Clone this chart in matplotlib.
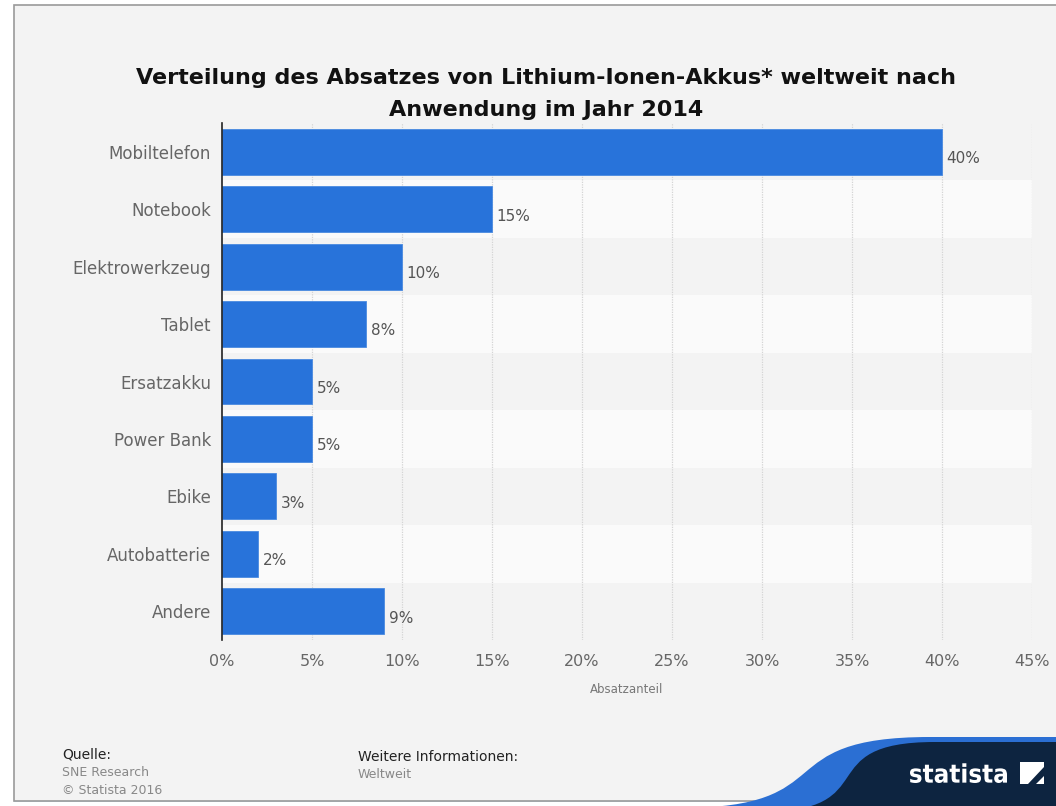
import matplotlib
matplotlib.use("Agg")
import matplotlib.pyplot as plt
import numpy as np
from matplotlib.patches import Rectangle, Polygon, PathPatch
from matplotlib.path import Path
from matplotlib.textpath import TextPath
from matplotlib.font_manager import FontProperties
from matplotlib.transforms import Affine2D

plt.rcParams['font.family'] = ['DejaVu Sans']

categories = ["Mobiltelefon", "Notebook", "Elektrowerkzeug", "Tablet", "Ersatzakku",
              "Power Bank", "Ebike", "Autobatterie", "Andere"]
shares = [40, 15, 10, 8, 5, 5, 3, 2, 9]
xticks = [0, 5, 10, 15, 20, 25, 30, 35, 40, 45]

BG = "#f3f3f3"
BAND = "#fafafa"
BAR = "#2873da"
GREY = "#666666"

W, H = 1056, 806
fig = plt.figure(figsize=(W / 100, H / 100), dpi=100)
fig.patch.set_facecolor("white")

# page frame and decoration layer in pixel coordinates
deco = fig.add_axes([0, 0, 1, 1], zorder=0)
deco.set_xlim(0, W)
deco.set_ylim(H, 0)
deco.axis("off")
deco.add_patch(Rectangle((14, 5), W + 20, 796, facecolor=BG, edgecolor="#9a9a9a", lw=1.2))

# main chart
ax = fig.add_axes([222 / W, 1 - 640 / H, (1032 - 222) / W, (640 - 123) / H], zorder=2)
ax.set_facecolor("none")
n = len(categories)
y = np.arange(n)
for i in y:
    if i % 2 == 1:
        ax.axhspan(i - 0.5, i + 0.5, color=BAND, zorder=0, lw=0)
ax.barh(y, shares, height=0.8, color=BAR, edgecolor="#4a8ae0", linewidth=0.6, zorder=3)
for yi, v in zip(y, shares):
    ax.text(v + 0.25, yi + 0.12, f"{v}%", va="center", ha="left", fontsize=11, color="#555555", zorder=4)

ax.set_ylim(n - 0.5, -0.5)
ax.set_xlim(0, 45)
ax.set_xticks(xticks)
ax.set_xticklabels([f"{t}%" for t in xticks], fontsize=11.5, color=GREY)
ax.set_yticks(y)
ax.set_yticklabels(categories, fontsize=12, color=GREY)
ax.tick_params(axis="both", length=0)
ax.tick_params(axis="x", pad=10)
ax.tick_params(axis="y", pad=8)
for t in xticks[1:]:
    ax.axvline(t, color="#d4d4d4", lw=0.9, ls=(0, (1, 1)), zorder=1)
for s in ["top", "right", "bottom"]:
    ax.spines[s].set_visible(False)
ax.spines["left"].set_color("#222222")
ax.spines["left"].set_linewidth(1.2)
ax.spines["left"].set_zorder(5)
ax.set_xlabel("Absatzanteil", fontsize=8.5, color="#777777", labelpad=10)

# title
fig.text(546 / W, 1 - 78 / H, "Verteilung des Absatzes von Lithium-Ionen-Akkus* weltweit nach",
         ha="center", va="center", fontsize=16, fontweight="bold", color="#111111")
fig.text(546 / W, 1 - 110 / H, "Anwendung im Jahr 2014",
         ha="center", va="center", fontsize=16, fontweight="bold", color="#111111")

# footer
fig.text(62 / W, 1 - 755 / H, "Quelle:", fontsize=10, color="#222222", va="center")
fig.text(62 / W, 1 - 773 / H, "SNE Research", fontsize=9, color="#888888", va="center")
fig.text(62 / W, 1 - 790 / H, "\u00a9 Statista 2016", fontsize=9, color="#888888", va="center")
fig.text(358 / W, 1 - 757 / H, "Weitere Informationen:", fontsize=10, color="#222222", va="center")
fig.text(358 / W, 1 - 775 / H, "Weltweit", fontsize=9, color="#888888", va="center")

# logo wave
def wave(x0, x1, y0, y1, xr, k=40):
    verts = [(x0, y0), ((x0 + x1) / 2 + k, y0), ((x0 + x1) / 2 - k, y1), (x1, y1),
             (xr, y1), (xr, H + 5), (x0, H + 5), (x0, y0)]
    codes = [Path.MOVETO, Path.CURVE4, Path.CURVE4, Path.CURVE4,
             Path.LINETO, Path.LINETO, Path.LINETO, Path.CLOSEPOLY]
    return Path(verts, codes)

deco.add_patch(PathPatch(wave(680, 930, 808, 737, W + 10), facecolor="#2b6fd3", lw=0))
deco.add_patch(PathPatch(wave(760, 935, 812, 742, W + 10), facecolor="#0d2440", lw=0))
deco.add_patch(Rectangle((14, 800), W, 2, facecolor="#cfe3f5", lw=0, zorder=-1))

# condensed logo lettering
tp = TextPath((0, 0), "statista", size=30, prop=FontProperties(family="DejaVu Sans", weight="bold"))
bb = tp.get_extents()
sx = 97 / bb.width
sy = 0.85
tr = Affine2D().translate(-bb.x0, -bb.y0).scale(sx, -sy).translate(910, 783)
deco.add_patch(PathPatch(tr.transform_path(tp), facecolor="white", lw=0))

deco.add_patch(Polygon([(1020, 762), (1044, 762), (1044, 767), (1028, 784), (1020, 784)],
                       closed=True, facecolor="white", lw=0))
deco.add_patch(Polygon([(1036, 784), (1044, 784), (1044, 776)], closed=True, facecolor="white", lw=0))

fig.savefig("out.png", dpi=100, facecolor=fig.get_facecolor())
